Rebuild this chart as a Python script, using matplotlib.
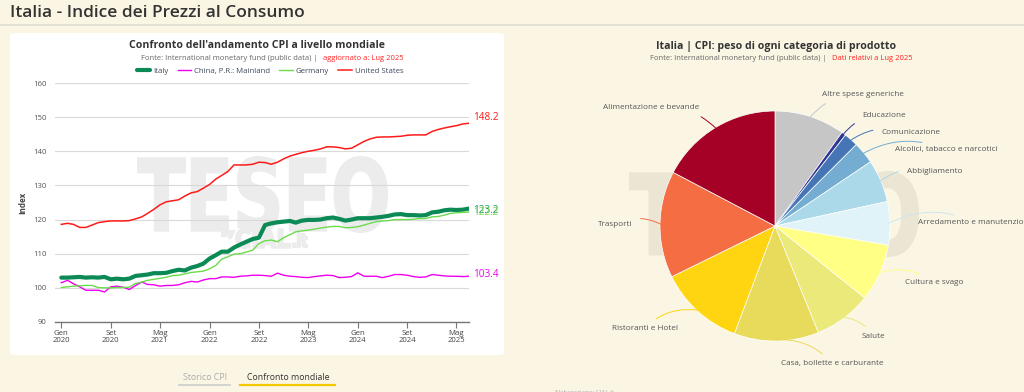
import matplotlib
matplotlib.use("Agg")
import matplotlib.pyplot as plt
import numpy as np
import pandas as pd
from matplotlib.patches import FancyBboxPatch, PathPatch
from matplotlib.textpath import TextPath
from matplotlib.font_manager import FontProperties
from matplotlib.transforms import Affine2D
from matplotlib.lines import Line2D

plt.rcParams['font.family'] = ['Open Sans', 'DejaVu Sans']

# ---------------- data ----------------
months = pd.date_range('2020-01-01', '2025-07-01', freq='MS')

italy = [103.0, 103.0, 103.1, 103.2, 103.0, 103.1, 103.0, 103.2, 102.5, 102.7, 102.5, 102.7,
         103.5, 103.7, 103.9, 104.3, 104.3, 104.4, 104.9, 105.3, 105.1, 105.9, 106.4, 107.1,
         108.6, 109.6, 110.6, 110.6, 111.8, 112.7, 113.5, 114.3, 114.7, 118.4, 118.9, 119.2,
         119.4, 119.6, 119.1, 119.7, 119.9, 119.9, 120.0, 120.4, 120.6, 120.2, 119.7, 120.0,
         120.4, 120.4, 120.4, 120.6, 120.8, 121.1, 121.5, 121.6, 121.3, 121.3, 121.2, 121.3,
         122.1, 122.3, 122.7, 122.9, 122.8, 122.9, 123.2]
china = [101.5, 102.2, 101.2, 100.3, 99.3, 99.3, 99.3, 98.8, 100.3, 100.5, 100.2, 99.5,
         100.7, 101.7, 101.0, 100.9, 100.5, 100.7, 100.7, 100.9, 101.5, 101.9, 101.7, 102.3,
         102.7, 102.7, 103.2, 103.2, 103.1, 103.4, 103.5, 103.7, 103.7, 103.6, 103.4, 104.3,
         103.7, 103.4, 103.3, 103.1, 103.0, 103.3, 103.5, 103.7, 103.6, 103.0, 103.1, 103.3,
         104.4, 103.4, 103.4, 103.4, 103.0, 103.4, 103.9, 103.9, 103.7, 103.3, 103.1, 103.2,
         103.9, 103.7, 103.5, 103.4, 103.4, 103.3, 103.4]
germany = [100.1, 100.3, 100.5, 100.6, 100.7, 100.7, 100.1, 100.0, 100.0, 100.1, 100.1, 100.2,
           101.3, 101.7, 102.2, 102.5, 102.8, 103.1, 103.6, 103.7, 104.1, 104.5, 104.7, 104.9,
           105.6, 106.6, 108.4, 109.1, 109.9, 110.0, 110.5, 111.0, 113.0, 113.8, 114.0, 113.5,
           114.7, 115.6, 116.4, 116.7, 116.9, 117.2, 117.5, 117.8, 118.0, 118.0, 117.6, 117.7,
           117.9, 118.4, 118.9, 119.4, 119.6, 119.7, 120.0, 120.0, 120.0, 120.1, 120.3, 120.3,
           120.8, 120.9, 121.3, 121.8, 122.0, 122.1, 122.2]
usa = [118.6, 118.9, 118.6, 117.7, 117.7, 118.4, 119.1, 119.4, 119.6, 119.6, 119.6, 119.7,
       120.2, 120.8, 121.8, 123.0, 124.3, 125.2, 125.5, 125.8, 126.9, 127.8, 128.2, 129.2,
       130.3, 131.9, 132.9, 134.1, 136.0, 136.0, 136.0, 136.2, 136.8, 136.7, 136.2, 136.8,
       137.8, 138.6, 139.1, 139.6, 140.0, 140.3, 140.7, 141.3, 141.3, 141.1, 140.7, 140.9,
       141.9, 142.9, 143.6, 144.1, 144.2, 144.2, 144.3, 144.4, 144.7, 144.8, 144.8, 144.8,
       145.8, 146.4, 146.8, 147.2, 147.5, 148.0, 148.2]

series_names = ['Italy', 'China, P.R.: Mainland', 'Germany', 'United States']
x_tick_labels = ['Gen\n2020', 'Set\n2020', 'Mag\n2021', 'Gen\n2022', 'Set\n2022',
                 'Mag\n2023', 'Gen\n2024', 'Set\n2024', 'Mag\n2025']
y_ticks = [90, 100, 110, 120, 130, 140, 150, 160]

categories = ['Altre spese generiche', 'Educazione', 'Comunicazione',
              'Alcolici, tabacco e narcotici', 'Abbigliamento', 'Arredamento e manutenzione',
              'Cultura e svago', 'Salute', 'Casa, bollette e carburante', 'Ristoranti e Hotel',
              'Trasporti', 'Alimentazione e bevande']
weights = [9.9, 0.6, 2.0, 3.1, 6.0, 6.1, 8.1, 8.1, 11.9, 12.0, 15.0, 17.3]
pie_colors = ['#c6c6c6', '#313695', '#4575b4', '#74add1', '#abd9e9', '#e0f3f8',
              '#ffff85', '#ebe97a', '#e8da5a', '#fed510', '#f46d43', '#a50026']

# ---------------- figure ----------------
W, H = 1024, 392
fig = plt.figure(figsize=(W / 100, H / 100), dpi=100)
fig.patch.set_facecolor('#fbf6e4')

def fx(px):
    return px / W

def fy(py):
    return 1 - py / H

# header
fig.text(fx(10), fy(13), 'Italia - Indice dei Prezzi al Consumo', fontsize=12.5,
         color='#333333', fontweight='semibold', va='center', ha='left')
fig.add_artist(Line2D([0, 1], [fy(24.5), fy(24.5)], color='#dcdcd0', lw=1.2,
                      transform=fig.transFigure))

# white card
card = FancyBboxPatch((fx(10), fy(355)), fx(494), fy(33) - fy(355),
                      boxstyle='round,pad=0,rounding_size=0.006', transform=fig.transFigure,
                      facecolor='white', edgecolor='none', zorder=-10)
fig.add_artist(card)

def watermark(x0, y0, x1, y1, color, zorder, ax=None, text='TESEO'):
    prop = FontProperties(family='DejaVu Sans', weight='bold')
    tp = TextPath((0, 0), text, size=100, prop=prop)
    bb = tp.get_extents()
    sx = (x1 - x0) / bb.width / 100.0
    sy = (y1 - y0) / bb.height / 100.0
    tr = Affine2D().translate(-bb.x0, -bb.y0).scale(sx, sy).translate(x0 / 100.0, (H - y1) / 100.0)
    p = PathPatch(tp, facecolor=color, edgecolor=color, lw=1.5,
                  transform=tr + fig.dpi_scale_trans, zorder=zorder, clip_on=False)
    if ax is None:
        fig.add_artist(p)
    else:
        ax.add_artist(p)

# ---------------- line chart ----------------
ax = fig.add_axes([fx(55), fy(322), fx(414), fy(83) - fy(322)])
ax.set_facecolor('none')
ax.set_axisbelow(True)
watermark(138, 157, 387, 232, '#ececec', 0.1, ax)
watermark(222, 229, 234, 238, '#ececec', 0.1, ax, text='by')
watermark(236, 229, 290, 248, '#ececec', 0.1, ax, text='CIAL')
watermark(293, 233, 307, 247, '#ececec', 0.1, ax, text='.it')

l_it, = ax.plot(months, italy, color='#0b8a55', lw=3.0, zorder=3, solid_capstyle='round')
l_cn, = ax.plot(months, china, color='#ee00ee', lw=1.0, zorder=3)
l_de, = ax.plot(months, germany, color='#6bdc4c', lw=1.0, zorder=3)
l_us, = ax.plot(months, usa, color='#ff1a1a', lw=1.1, zorder=3)

ax.set_xlim(pd.Timestamp('2019-12-01'), pd.Timestamp('2025-07-02'))
ax.set_ylim(90, 160)
ax.set_yticks(y_ticks)
ax.set_xticks(months[::8])
ax.set_xticklabels(x_tick_labels)
ax.grid(axis='y', color='#d9d9d9', lw=0.8)
for s in ['top', 'right', 'left']:
    ax.spines[s].set_visible(False)
ax.spines['bottom'].set_color('#777777')
ax.spines['bottom'].set_linewidth(1.0)
ax.tick_params(axis='y', length=0, labelsize=5.6, labelcolor='#555555', pad=6)
ax.tick_params(axis='x', length=4, width=0.8, color='#777777', labelsize=5.6,
               labelcolor='#444444', pad=1.5)
for t in ax.get_xticklabels():
    t.set_linespacing(1.1)
ax.set_ylabel('Index', fontsize=5.8, color='#444444', fontweight='bold', labelpad=4)

# end labels
ax.annotate(f'{usa[-1]:.1f}', (months[-1], usa[-1]), xytext=(3, 0), textcoords='offset points',
            color='#ff1a1a', fontsize=7.2, va='bottom', ha='left', annotation_clip=False)
ax.annotate(f'{italy[-1]:.1f}', (months[-1], italy[-1]), xytext=(3, -1), textcoords='offset points',
            color='#1a9a6a', fontsize=7.2, va='center', ha='left', annotation_clip=False)
ax.annotate(f'{germany[-1]:.1f}', (months[-1], germany[-1]), xytext=(3, 0), textcoords='offset points',
            color='#7ad84e', fontsize=7.2, va='center', ha='left', annotation_clip=False)
ax.annotate(f'{china[-1]:.1f}', (months[-1], china[-1]), xytext=(3, 1), textcoords='offset points',
            color='#ee00ee', fontsize=7.2, va='center', ha='left', annotation_clip=False)

# titles
fig.text(fx(257), fy(46), "Confronto dell'andamento CPI a livello mondiale", ha='center', va='center',
         fontsize=7.6, fontweight='bold', color='#333333')
fig.text(fx(318), fy(58.5), 'Fonte: International monetary fund (public data) |', ha='right',
         va='center', fontsize=5.5, color='#666666')
fig.text(fx(323), fy(58.5), 'aggiornato a: Lug 2025', ha='left', va='center', fontsize=5.5,
         color='#ff2222')

leg = fig.legend([l_it, l_cn, l_de, l_us], series_names, loc='center', ncol=4,
                 bbox_to_anchor=(fx(270), fy(71)), frameon=False, fontsize=5.6,
                 handlelength=1.7, handletextpad=0.4, columnspacing=1.2, borderpad=0)
for t in leg.get_texts():
    t.set_color('#3d4a5c')

# footer tabs
fig.text(fx(205), fy(377), 'Storico CPI', ha='center', va='center', fontsize=6.3, color='#aaaaaa')
fig.add_artist(Line2D([fx(179), fx(230)], [fy(385), fy(385)], color='#cccccc', lw=1.2,
                      transform=fig.transFigure))
fig.text(fx(288), fy(377), 'Confronto mondiale', ha='center', va='center', fontsize=6.3,
         color='#333333')
fig.add_artist(Line2D([fx(240), fx(335)], [fy(385), fy(385)], color='#f5c800', lw=1.6,
                      transform=fig.transFigure))
fig.text(fx(585), fy(392), 'Elaborazione: CIAL.it', ha='center', va='center', fontsize=4.5,
         color='#aaaaaa')

# ---------------- pie chart ----------------
fig.text(fx(776), fy(46), 'Italia | CPI: peso di ogni categoria di prodotto', ha='center',
         va='center', fontsize=7.6, fontweight='bold', color='#333333')
fig.text(fx(827), fy(58.5), 'Fonte: International monetary fund (public data) |', ha='right',
         va='center', fontsize=5.5, color='#666666')
fig.text(fx(832), fy(58.5), 'Dati relativi a Lug 2025', ha='left', va='center', fontsize=5.5,
         color='#ff2222')

watermark(630, 172, 918, 256, '#ebe5d3', -5)

R = 115
pax = fig.add_axes([fx(775 - R), fy(226 + R), fx(2 * R), fy(226 - R) - fy(226 + R)])
pax.set_facecolor('none')
wedges, _ = pax.pie(weights, colors=pie_colors, startangle=90, counterclock=False, radius=1.0,
                    wedgeprops=dict(linewidth=0.5, edgecolor='white'))
pax.set_xlim(-1, 1)
pax.set_ylim(-1, 1)
pax.set_aspect('auto')
pax.axis('off')

# label layout: on a circle, pushed apart vertically on the right side
LR = 1.2
GAP = 0.15
prev_y = None
for w, lab, c in zip(wedges, categories, pie_colors):
    ang = np.deg2rad((w.theta1 + w.theta2) / 2)
    ca, sa = np.cos(ang), np.sin(ang)
    right = ca >= -0.05
    ty = LR * sa
    if right:
        if prev_y is not None and ty > prev_y - GAP:
            ty = prev_y - GAP
        prev_y = ty
    txc = np.sqrt(max(LR ** 2 - ty ** 2, 0.0)) * (1 if right else -1)
    if abs(ca) < 0.1 and not right:
        txc = LR * ca
    tx = txc + (0.04 if right else -0.04)
    lc = '#cfe6ee' if c == '#e0f3f8' else c
    pax.annotate(lab, xy=(0.99 * ca, 0.99 * sa), xytext=(tx, ty),
                 ha='left' if right else 'right', va='center', fontsize=5.9, color='#555555',
                 annotation_clip=False,
                 arrowprops=dict(arrowstyle='-', color=lc, lw=0.7, shrinkA=4, shrinkB=0,
                                 connectionstyle='arc3,rad=%s' % (0.25 if right else -0.25)))

fig.savefig('out.png', dpi=100, facecolor=fig.get_facecolor())
